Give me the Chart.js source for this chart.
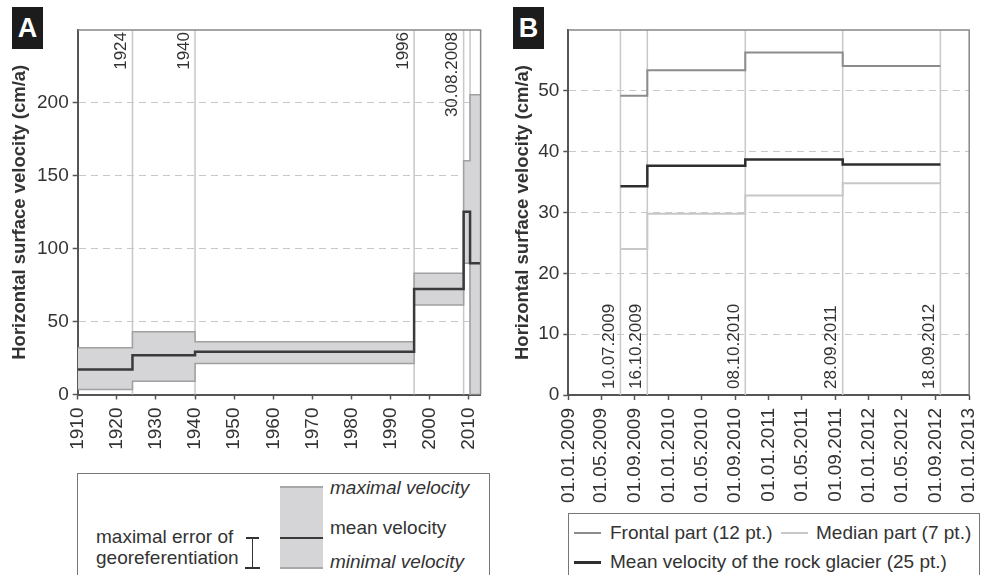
<!DOCTYPE html>
<html>
<head>
<meta charset="utf-8">
<script src="https://cdn.jsdelivr.net/npm/chart.js@4.4.1/dist/chart.umd.min.js"></script>
<style>
  body { margin:0; width:986px; height:575px; overflow:hidden; background:#fff; position:relative;
         font-family:"Liberation Sans", Arial, sans-serif; color:#333; }
  canvas { position:absolute; top:0; }
  .tag { position:absolute; top:7px; width:31px; height:42px; background:#1c1c1c; color:#fff;
         font-weight:bold; font-size:27px; line-height:42px; text-align:center; }
  .box { position:absolute; border:1.5px solid #777; box-sizing:border-box; }
  .txt { position:absolute; font-size:19px; line-height:22px; white-space:nowrap; }
  .bar { position:absolute; }
</style>
</head>
<body>
<canvas id="chartA" width="500" height="470" style="left:0"></canvas>
<canvas id="chartB" width="500" height="510" style="left:500px"></canvas>

<div class="tag" style="left:12px">A</div>
<div class="tag" style="left:513px">B</div>

<!-- legend A -->
<div class="box" style="left:77px;top:473px;width:413px;height:120px"></div>
<div class="bar" style="left:280px;top:487px;width:43px;height:81px;background:#d5d5d7"></div>
<div class="bar" style="left:280px;top:486px;width:43px;height:1.5px;background:#a8a8a8"></div>
<div class="bar" style="left:280px;top:536.5px;width:43px;height:2.5px;background:#3a3a3a"></div>
<div class="bar" style="left:280px;top:567px;width:43px;height:1.5px;background:#a8a8a8"></div>
<div class="bar" style="left:251.5px;top:537.5px;width:1.5px;height:30px;background:#333"></div>
<div class="bar" style="left:246px;top:537px;width:13px;height:1.5px;background:#333"></div>
<div class="bar" style="left:245px;top:567px;width:15px;height:2px;background:#333"></div>
<div class="txt" style="left:330px;top:477px;font-style:italic">maximal velocity</div>
<div class="txt" style="left:330px;top:517px">mean velocity</div>
<div class="txt" style="left:330px;top:551px;font-style:italic">minimal velocity</div>
<div class="txt" style="left:96px;top:526px">maximal error of</div>
<div class="txt" style="left:96px;top:547px">georeferentiation</div>

<!-- legend B -->
<div class="box" style="left:568px;top:513px;width:412px;height:80px"></div>
<div class="bar" style="left:574px;top:532px;width:27px;height:2px;background:#8c8c8c"></div>
<div class="bar" style="left:781px;top:532px;width:27px;height:2px;background:#c8c8c8"></div>
<div class="bar" style="left:574px;top:561px;width:27px;height:2.5px;background:#2e2e2e"></div>
<div class="txt" style="left:610px;top:522px">Frontal part (12 pt.)</div>
<div class="txt" style="left:816px;top:522px">Median part (7 pt.)</div>
<div class="txt" style="left:610px;top:551px">Mean velocity of the rock glacier (25 pt.)</div>

<script>
// ---- panel A: historical velocities ----
const yearTicksA = [1910, 1920, 1930, 1940, 1950, 1960, 1970, 1980, 1990, 2000, 2010];
const velTicksA = [0, 50, 100, 150, 200];
const periodStartA = [1910, 1924, 1940, 1996, 2008.66, 2010.3];
const periodEndA = 2013;
const meanVelA = [17.2, 27.0, 29.3, 72.3, 125.3, 90.0];
const maxVelA = [32.0, 43.0, 36.1, 83.1, 160.4, 205.6];
const minVelA = [3.4, 9.1, 21.3, 61.3, 90.0, 0];
const eventYearsA = [1924, 1940, 1996, 2008.66, 2010.3];
const eventLabelsA = ["1924", "1940", "1996", "30.08.2008", ""];

// ---- panel B: GPS campaigns ----
const dateTicksB = ["01.01.2009", "01.05.2009", "01.09.2009", "01.01.2010", "01.05.2010", "01.09.2010",
                    "01.01.2011", "01.05.2011", "01.09.2011", "01.01.2012", "01.05.2012", "01.09.2012", "01.01.2013"];
const velTicksB = [0, 10, 20, 30, 40, 50];
const eventDatesB = ["10.07.2009", "16.10.2009", "08.10.2010", "28.09.2011", "18.09.2012"];
const frontalB = [49.2, 53.4, 56.3, 54.1];
const medianB = [24.0, 29.8, 32.8, 34.8];
const meanB = [34.3, 37.7, 38.7, 37.9];

Chart.defaults.font.family = '"Liberation Sans", Arial, sans-serif';
Chart.defaults.color = "#333";

function parseDate(s) {
  const [d, m, y] = s.split(".").map(Number);
  return Date.UTC(y, m - 1, d);
}
function fmtDate(v) {
  const d = new Date(v);
  const p = n => String(n).padStart(2, "0");
  return p(d.getUTCDate()) + "." + p(d.getUTCMonth() + 1) + "." + d.getUTCFullYear();
}
// step series: each value holds from its start to the next start
function steps(starts, end, vals) {
  return starts.map((x, i) => ({ x, y: vals[i] })).concat({ x: end, y: vals[vals.length - 1] });
}

// vertical event lines with rotated labels
function eventPlugin(values, labels, atTop) {
  return {
    id: "events",
    beforeDatasetsDraw(chart) {
      const { ctx, chartArea: a, scales: { x } } = chart;
      ctx.save();
      ctx.strokeStyle = "#c8c8c8";
      ctx.lineWidth = 1.5;
      values.forEach(v => {
        const px = x.getPixelForValue(v);
        ctx.beginPath(); ctx.moveTo(px, a.top); ctx.lineTo(px, a.bottom); ctx.stroke();
      });
      ctx.restore();
    },
    afterDraw(chart) {
      const { ctx, chartArea: a, scales: { x } } = chart;
      ctx.save();
      ctx.fillStyle = "#333";
      ctx.font = '17px "Liberation Sans", Arial, sans-serif';
      ctx.textBaseline = "middle";
      values.forEach((v, i) => {
        if (!labels[i]) return;
        const px = x.getPixelForValue(v) - 11;
        ctx.save();
        if (atTop) { ctx.translate(px, a.top + 2); ctx.textAlign = "right"; }
        else { ctx.translate(px, a.bottom - 6); ctx.textAlign = "left"; }
        ctx.rotate(-Math.PI / 2);
        ctx.fillText(labels[i], 0, 0);
        ctx.restore();
      });
      ctx.restore();
    }
  };
}

// top and right frame lines
const framePlugin = {
  id: "frame",
  afterDraw(chart) {
    const { ctx, chartArea: a } = chart;
    ctx.save();
    ctx.strokeStyle = "#888";
    ctx.lineWidth = 1.5;
    ctx.beginPath();
    ctx.moveTo(a.left, a.top); ctx.lineTo(a.right, a.top); ctx.lineTo(a.right, a.bottom);
    ctx.stroke();
    ctx.restore();
  }
};

function yAxis(max, ticks, width) {
  return {
    min: 0, max,
    afterBuildTicks: s => { s.ticks = ticks.map(v => ({ value: v })); },
    afterFit: s => { s.width = width; },
    ticks: { padding: 4, font: { size: 19 }, color: "#333" },
    grid: {
      color: c => (c.tick && c.tick.value === 0 ? "rgba(0,0,0,0)" : "#c8c8c8"),
      lineWidth: 1, tickLength: 5, tickColor: "#555", tickWidth: 1.5
    },
    border: { color: "#555", width: 2, dash: [7, 5] },
    title: { display: true, text: "Horizontal surface velocity (cm/a)", color: "#333",
             font: { size: 18.5, weight: "bold" }, padding: { top: 4, bottom: 4 } }
  };
}

function xAxis(min, max, ticks, height, fmt) {
  return {
    type: "linear", min, max,
    afterBuildTicks: s => { s.ticks = ticks.map(v => ({ value: v })); },
    afterFit: s => { s.height = height; },
    ticks: { minRotation: 90, maxRotation: 90, autoSkip: false, padding: 8,
             font: { size: 19 }, color: "#333", callback: fmt },
    grid: { drawOnChartArea: false, tickLength: 5, tickColor: "#555", tickWidth: 1.5 },
    border: { color: "#555", width: 2 }
  };
}

const common = {
  responsive: false,
  animation: false,
  events: [],
  plugins: { legend: { display: false }, tooltip: { enabled: false } },
  elements: { point: { radius: 0 } }
};

// ---- chart A ----  (higher order is drawn first, so the mean line sits on top of the band)
new Chart(document.getElementById("chartA"), {
  type: "line",
  data: {
    datasets: [
      { data: steps(periodStartA, periodEndA, maxVelA), stepped: true, borderColor: "#a0a0a0",
        borderWidth: 1.5, backgroundColor: "#d5d5d7", fill: "+1", order: 3 },
      { data: steps(periodStartA, periodEndA, minVelA), stepped: true, borderColor: "#a0a0a0",
        borderWidth: 1.5, fill: false, order: 2 },
      { data: steps(periodStartA, periodEndA, meanVelA), stepped: true, borderColor: "#3a3a3a",
        borderWidth: 2.5, fill: false, order: 1 }
    ]
  },
  options: {
    ...common,
    layout: { padding: { left: 5, top: 30, right: 11, bottom: 0 } },
    scales: {
      x: xAxis(1910, 2013, yearTicksA, 470 - 394.5, v => String(v)),
      y: yAxis(250, velTicksA, 72.7)
    }
  },
  plugins: [eventPlugin(eventYearsA, eventLabelsA, true), framePlugin]
});

// ---- chart B ----
const startsB = eventDatesB.slice(0, -1).map(parseDate);
const endB = parseDate(eventDatesB[eventDatesB.length - 1]);

new Chart(document.getElementById("chartB"), {
  type: "line",
  data: {
    datasets: [
      { label: "Median part (7 pt.)", data: steps(startsB, endB, medianB), stepped: true,
        borderColor: "#c8c8c8", borderWidth: 2, fill: false, order: 3 },
      { label: "Frontal part (12 pt.)", data: steps(startsB, endB, frontalB), stepped: true,
        borderColor: "#8c8c8c", borderWidth: 2, fill: false, order: 2 },
      { label: "Mean velocity of the rock glacier (25 pt.)", data: steps(startsB, endB, meanB), stepped: true,
        borderColor: "#2e2e2e", borderWidth: 2.5, fill: false, order: 1 }
    ]
  },
  options: {
    ...common,
    layout: { padding: { left: 8, top: 30, right: 20.7, bottom: 0 } },
    scales: {
      x: xAxis(parseDate(dateTicksB[0]), parseDate(dateTicksB[dateTicksB.length - 1]),
               dateTicksB.map(parseDate), 510 - 395, v => fmtDate(v)),
      y: yAxis(60, velTicksB, 60.3)
    }
  },
  plugins: [eventPlugin(eventDatesB.map(parseDate), eventDatesB, false), framePlugin]
});
</script>
</body>
</html>
